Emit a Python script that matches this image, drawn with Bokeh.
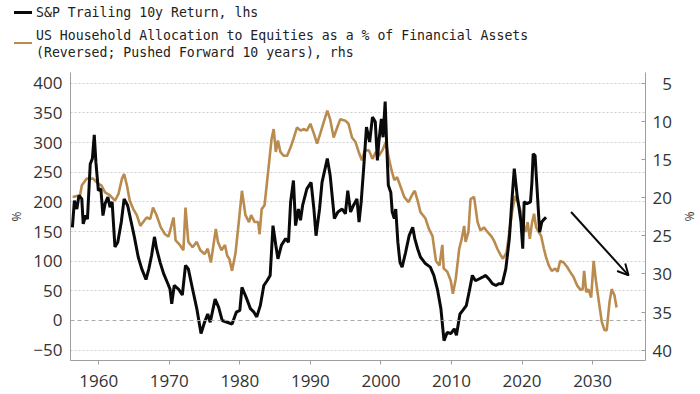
import html
from bokeh.plotting import figure
from bokeh.layouts import column
from bokeh.models import (Range1d, LinearAxis, FixedTicker, Span, Arrow, OpenHead, Div)
from bokeh.embed import file_html
from bokeh.resources import INLINE

# ---------------- data ----------------
sp_year = [1956.27, 1956.55, 1956.9, 1957.2, 1957.6, 1957.8, 1958.15, 1958.4, 1958.8, 1959.1,
           1959.37, 1959.6, 1959.95, 1960.3, 1960.6, 1960.9, 1961.3, 1961.6, 1961.9, 1962.3,
           1962.7, 1963.2, 1963.6, 1964.1, 1964.6, 1965.05, 1965.6, 1966.1, 1966.7, 1967.1,
           1967.5, 1967.9, 1968.2, 1968.7, 1969.2, 1969.8, 1970.1, 1970.35, 1970.7, 1971.3,
           1971.85, 1972.3, 1972.7, 1973.3, 1973.9, 1974.5, 1975.0, 1975.45, 1975.8, 1976.5,
           1977.0, 1977.5, 1978.2, 1978.9, 1979.5, 1980.0, 1980.3, 1980.9, 1981.5, 1982.0,
           1982.4, 1982.9, 1983.4, 1983.86, 1984.3, 1984.7, 1985.1, 1985.4, 1985.9, 1986.5,
           1986.9, 1987.2, 1987.6, 1987.9, 1988.3, 1988.6, 1988.9, 1989.5, 1990.1, 1990.5,
           1990.8, 1991.3, 1991.65, 1992.4, 1992.8, 1993.4, 1993.9, 1994.5, 1994.96, 1995.3,
           1995.7, 1996.1, 1996.6, 1996.9, 1997.2, 1997.55, 1997.95, 1998.4, 1998.8, 1999.2,
           1999.5, 1999.7, 2000.06, 2000.3, 2000.6, 2000.8, 2001.05, 2001.4, 2001.6, 2001.9,
           2002.1, 2002.4, 2002.7, 2003.0, 2003.5, 2004.0, 2004.5, 2004.8, 2005.2, 2005.6,
           2006.3, 2007.0, 2007.5, 2008.0, 2008.5, 2008.94, 2009.4, 2009.9, 2010.4, 2010.7,
           2011.2, 2011.6, 2012.1, 2012.5, 2012.96, 2013.4, 2013.9, 2014.4, 2014.85, 2015.3,
           2015.8, 2016.3, 2016.7, 2017.2, 2017.7, 2018.2, 2018.55, 2018.9, 2019.3, 2019.6,
           2019.85, 2020.1, 2020.3, 2020.7, 2021.2, 2021.4, 2021.58, 2021.85, 2022.1, 2022.5,
           2022.8, 2023.15, 2023.4]
sp_return = [157, 202, 188, 211, 205, 163, 177, 171, 264, 273,
             313, 267, 219, 222, 177, 197, 208, 191, 200, 124,
             132, 166, 205, 194, 166, 141, 107, 87, 69, 87,
             110, 141, 121, 98, 79, 62, 53, 28, 59, 53,
             43, 93, 87, 53, 20, -22, -3, 11, -3, 36,
             22, 0, -3, -6, 14, 17, 56, 39, 20, 14,
             6, 25, 59, 67, 76, 160, 127, 104, 127, 138,
             132, 200, 236, 160, 188, 169, 194, 222, 233, 188,
             143, 188, 233, 273, 245, 172, 183, 188, 180, 219,
             183, 194, 205, 166, 200, 256, 326, 301, 343, 335,
             270, 301, 340, 309, 369, 301, 228, 216, 183, 172,
             188, 132, 98, 90, 115, 143, 157, 138, 121, 107,
             96, 90, 76, 53, 20, -34, -20, -22, -14, -25,
             11, 17, 25, 48, 76, 67, 70, 73, 76, 70,
             62, 59, 62, 62, 87, 138, 200, 256, 211, 188,
             166, 121, 200, 197, 200, 233, 281, 278, 228, 149,
             166, 171, 174]

alloc_year = [1956.3, 1957.35, 1957.6, 1958.3, 1959.2, 1959.95, 1960.4, 1960.9, 1961.6, 1962.3,
              1962.8, 1963.3, 1963.6, 1964.0, 1964.4, 1964.9, 1965.4, 1965.9, 1966.3, 1966.8,
              1967.3, 1967.7, 1968.2, 1968.8, 1969.4, 1969.9, 1970.6, 1970.9, 1971.5, 1972.0,
              1972.3, 1972.7, 1973.3, 1973.9, 1974.4, 1975.0, 1975.45, 1975.9, 1976.6, 1976.9,
              1977.4, 1977.9, 1978.2, 1978.5, 1978.9, 1979.4, 1979.85, 1980.3, 1980.8, 1981.3,
              1981.6, 1982.1, 1982.6, 1982.8, 1983.1, 1983.5, 1984.0, 1984.5, 1984.8, 1985.1,
              1985.4, 1985.75, 1986.2, 1986.7, 1987.2, 1987.6, 1988.1, 1988.6, 1989.1, 1989.5,
              1990.0, 1990.5, 1990.95, 1991.4, 1991.9, 1992.4, 1992.8, 1993.3, 1993.8, 1994.25,
              1994.96, 1995.4, 1995.9, 1996.4, 1996.85, 1997.3, 1997.7, 1998.3, 1998.8, 1999.3,
              1999.7, 2000.2, 2000.7, 2001.05, 2001.5, 2001.9, 2002.3, 2002.8, 2003.3, 2003.9,
              2004.5, 2004.8, 2005.2, 2005.6, 2006.3, 2006.8, 2007.3, 2007.8, 2008.3, 2008.7,
              2008.9, 2009.4, 2009.9, 2010.2, 2010.6, 2011.1, 2011.45, 2011.8, 2012.0, 2012.4,
              2012.7, 2013.2, 2013.7, 2014.1, 2014.6, 2015.1, 2015.6, 2016.0, 2016.5, 2017.0,
              2017.3, 2017.8, 2018.2, 2018.6, 2019.0, 2019.4, 2019.75, 2020.1, 2020.5, 2020.8,
              2021.1, 2021.4, 2021.7, 2022.0, 2022.35, 2022.7, 2023.1, 2023.4, 2023.8, 2024.2,
              2024.7, 2025.05, 2025.4, 2025.9, 2026.4, 2026.8, 2027.3, 2027.8, 2028.3, 2028.6,
              2028.8, 2029.1, 2029.4, 2029.8, 2030.15, 2030.5, 2030.9, 2031.3, 2031.7, 2032.0,
              2032.4, 2032.7, 2033.1, 2033.4]
alloc_pct = [19.9, 19.7, 18.4, 17.5, 17.5, 18.2, 18.4, 19.3, 19.7, 20.4,
             19.5, 17.5, 16.9, 18.4, 20.4, 21.5, 22.3, 23.7, 23.2, 22.6,
             22.8, 21.3, 22.3, 23.9, 24.8, 25.1, 22.6, 25.6, 26.2, 26.9,
             21.3, 25.8, 26.5, 25.8, 26.9, 27.4, 26.7, 28.5, 24.1, 25.8,
             26.9, 26.2, 27.6, 28.0, 29.6, 27.2, 23.2, 19.1, 22.3, 23.2,
             22.3, 23.2, 23.2, 24.8, 21.5, 21.0, 16.7, 12.3, 11.0, 14.0,
             12.5, 14.0, 14.5, 14.5, 13.4, 12.3, 10.8, 11.2, 11.0, 11.2,
             10.3, 11.6, 12.9, 11.6, 10.05, 8.6, 9.7, 12.1, 10.8, 9.7,
             9.9, 10.3, 12.1, 12.7, 14.0, 15.1, 13.8, 13.8, 14.9, 14.0,
             14.5, 13.8, 12.7, 14.5, 16.4, 17.7, 17.3, 18.6, 19.9, 20.6,
             19.5, 19.1, 20.4, 21.9, 22.7, 24.1, 25.0, 28.3, 28.9, 26.2,
             29.3, 29.7, 30.9, 32.6, 30.7, 26.7, 25.4, 23.7, 25.8, 24.5,
             20.2, 19.9, 23.2, 24.3, 23.9, 24.5, 25.0, 25.6, 26.7, 27.6,
             28.0, 27.2, 24.5, 21.8, 19.8, 20.6, 21.6, 23.2, 24.5, 23.2,
             25.4, 23.4, 22.1, 23.9, 24.5, 25.0, 26.7, 27.8, 28.9, 29.6,
             29.3, 29.7, 28.3, 28.5, 29.1, 29.7, 30.4, 31.5, 32.1, 32.0,
             29.6, 32.4, 32.0, 33.1, 28.3, 31.1, 33.7, 36.3, 37.4, 37.4,
             33.7, 32.0, 32.8, 34.4]

x_ticks = [1960, 1970, 1980, 1990, 2000, 2010, 2020, 2030]
lhs_ticks = [-50, 0, 50, 100, 150, 200, 250, 300, 350, 400]
rhs_ticks = [5, 10, 15, 20, 25, 30, 35, 40]

legend_texts = ["S&P Trailing 10y Return, lhs",
                "US Household Allocation to Equities as a % of Financial Assets",
                "(Reversed; Pushed Forward 10 years), rhs"]

# trend arrow (annotation), in lhs units
arrow_start = (2026.95, 183)
arrow_end = (2035.1, 76)

BLACK = "#0a0a0a"
GOLD = "#B98B4F"
AXIS_GREY = "#9e9e9e"
TEXT = "#333333"

# ---------------- legend strip (HTML above the chart) ----------------
LEG_H = 64
t1, t2, t3 = (html.escape(t) for t in legend_texts)
legend_html = (
    f'<div style="position:relative;width:700px;height:{LEG_H}px;overflow:visible;'
    f"font-family:'DejaVu Sans Mono',monospace;font-size:13.2px;line-height:13.2px;color:#222222;\">"
    f'<div style="position:absolute;left:14px;top:10.5px;width:18px;height:3px;background:{BLACK};"></div>'
    f'<div style="position:absolute;left:36px;top:6.2px;white-space:pre;">{t1}</div>'
    f'<div style="position:absolute;left:14px;top:41.6px;width:18px;height:2.2px;background:{GOLD};"></div>'
    f'<div style="position:absolute;left:36px;top:28.9px;white-space:pre;">{t2}</div>'
    f'<div style="position:absolute;left:36px;top:45.6px;white-space:pre;">{t3}</div>'
    '</div>'
)
leg = Div(text=legend_html, width=700, height=LEG_H, margin=0)

# ---------------- main chart ----------------
p = figure(width=700, height=394 - LEG_H, output_backend="svg", toolbar_location=None,
           x_range=Range1d(1956.0, 2037.5), y_range=Range1d(-67.5, 418.2),
           min_border_left=70, min_border_right=55, min_border_top=72 - LEG_H,
           min_border_bottom=34)
p.extra_y_ranges = {"rhs": Range1d(start=41.36, end=3.58)}
p.outline_line_color = None

p.xgrid.visible = False
p.ygrid.ticker = FixedTicker(ticks=[t for t in lhs_ticks if t != 0])
p.ygrid.grid_line_color = "#cfcfcf"
p.ygrid.grid_line_dash = "2 2"
p.ygrid.grid_line_width = 1

p.add_layout(Span(location=0, dimension="width", line_color="#a8a8a8",
                  line_dash="4 3", line_width=1))

p.line(alloc_year, alloc_pct, y_range_name="rhs", line_color=GOLD, line_width=2.6)
p.line(sp_year, sp_return, line_color=BLACK, line_width=3)

xa = p.xaxis[0]
xa.ticker = FixedTicker(ticks=x_ticks)
ya = p.yaxis[0]
ya.ticker = FixedTicker(ticks=lhs_ticks)
ya.axis_label = "%"
ra = LinearAxis(y_range_name="rhs", ticker=FixedTicker(ticks=rhs_ticks), axis_label="%")
ra.major_label_overrides = {5: "\u20075"}
p.add_layout(ra, "right")

for ax in (xa, ya, ra):
    ax.axis_line_color = AXIS_GREY
    ax.axis_line_width = 1
    ax.major_tick_line_color = AXIS_GREY
    ax.minor_tick_line_color = None
    ax.major_label_text_font = "Open Sans"
    ax.major_label_text_font_size = "17px"
    ax.major_label_text_color = TEXT
    ax.axis_label_text_font = "Open Sans"
    ax.axis_label_text_font_size = "12px"
    ax.axis_label_text_font_style = "normal"
    ax.axis_label_text_color = TEXT

xa.major_tick_out = 4
xa.major_tick_in = 0
xa.major_label_standoff = 10
ya.major_tick_out = 0
ya.major_tick_in = 0
ya.major_label_standoff = 8
ya.axis_label_standoff = 5
ra.major_tick_out = 0
ra.major_tick_in = 4
ra.major_label_standoff = 7
ra.axis_label_standoff = 6

p.add_layout(Arrow(end=OpenHead(size=11, line_width=2, line_color=BLACK),
                   x_start=arrow_start[0], y_start=arrow_start[1],
                   x_end=arrow_end[0], y_end=arrow_end[1],
                   line_color=BLACK, line_width=2))

open("out.html", "w").write(file_html(column(leg, p, spacing=0), INLINE))
